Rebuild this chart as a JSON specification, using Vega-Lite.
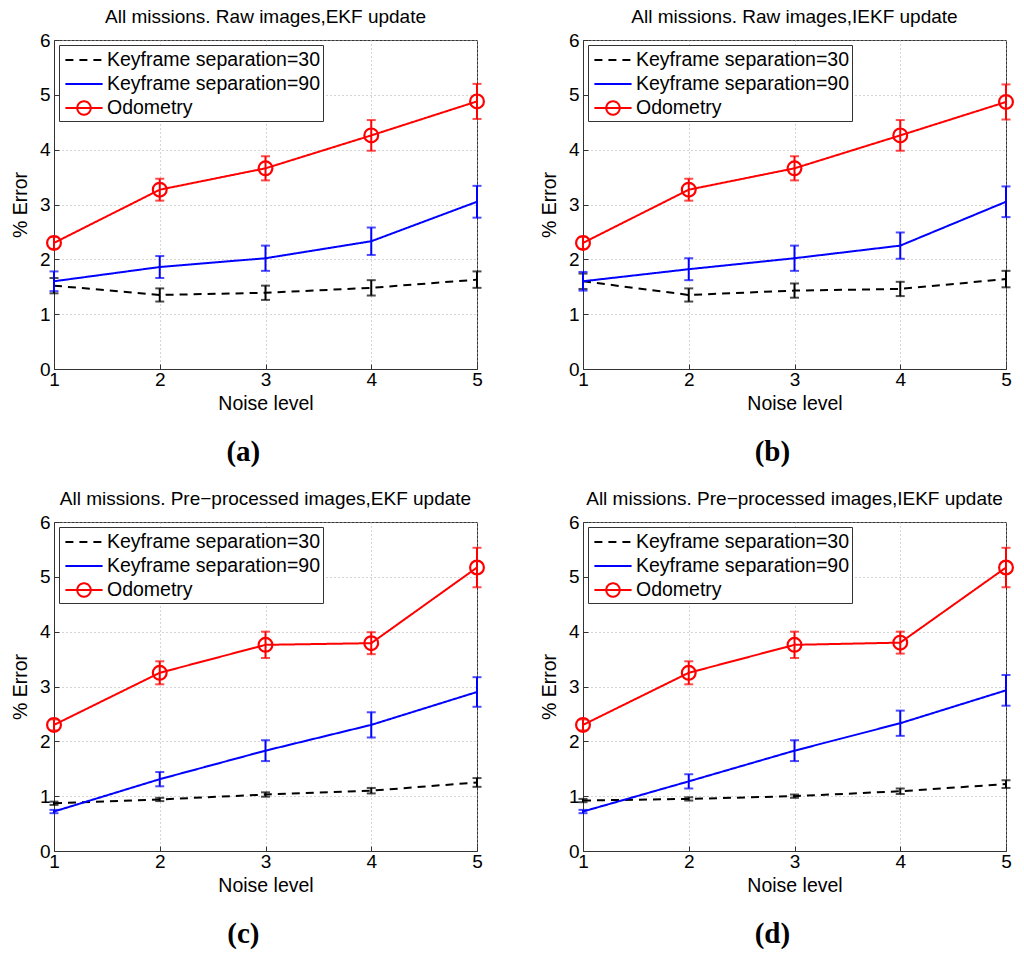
{
  "$schema": "https://vega.github.io/schema/vega-lite/v6.json",
  "background": "white",
  "padding": {"left": 9, "top": 7, "right": 4, "bottom": 4},
  "datasets": {
    "all": [
      {"p":"a","s":"Keyframe separation=30","n":1,"e":1.52,"lo":1.38,"hi":1.66},
      {"p":"a","s":"Keyframe separation=30","n":2,"e":1.35,"lo":1.23,"hi":1.47},
      {"p":"a","s":"Keyframe separation=30","n":3,"e":1.39,"lo":1.26,"hi":1.52},
      {"p":"a","s":"Keyframe separation=30","n":4,"e":1.48,"lo":1.34,"hi":1.62},
      {"p":"a","s":"Keyframe separation=30","n":5,"e":1.63,"lo":1.48,"hi":1.78},
      {"p":"a","s":"Keyframe separation=90","n":1,"e":1.60,"lo":1.42,"hi":1.78},
      {"p":"a","s":"Keyframe separation=90","n":2,"e":1.86,"lo":1.66,"hi":2.06},
      {"p":"a","s":"Keyframe separation=90","n":3,"e":2.02,"lo":1.79,"hi":2.25},
      {"p":"a","s":"Keyframe separation=90","n":4,"e":2.33,"lo":2.08,"hi":2.58},
      {"p":"a","s":"Keyframe separation=90","n":5,"e":3.05,"lo":2.76,"hi":3.34},
      {"p":"a","s":"Odometry","n":1,"e":2.30,"lo":2.19,"hi":2.41},
      {"p":"a","s":"Odometry","n":2,"e":3.27,"lo":3.07,"hi":3.47},
      {"p":"a","s":"Odometry","n":3,"e":3.66,"lo":3.44,"hi":3.88},
      {"p":"a","s":"Odometry","n":4,"e":4.26,"lo":3.98,"hi":4.54},
      {"p":"a","s":"Odometry","n":5,"e":4.88,"lo":4.56,"hi":5.20},
      {"p":"b","s":"Keyframe separation=30","n":1,"e":1.60,"lo":1.46,"hi":1.74},
      {"p":"b","s":"Keyframe separation=30","n":2,"e":1.35,"lo":1.23,"hi":1.47},
      {"p":"b","s":"Keyframe separation=30","n":3,"e":1.43,"lo":1.30,"hi":1.56},
      {"p":"b","s":"Keyframe separation=30","n":4,"e":1.46,"lo":1.33,"hi":1.59},
      {"p":"b","s":"Keyframe separation=30","n":5,"e":1.64,"lo":1.49,"hi":1.79},
      {"p":"b","s":"Keyframe separation=90","n":1,"e":1.60,"lo":1.43,"hi":1.77},
      {"p":"b","s":"Keyframe separation=90","n":2,"e":1.82,"lo":1.62,"hi":2.02},
      {"p":"b","s":"Keyframe separation=90","n":3,"e":2.02,"lo":1.79,"hi":2.25},
      {"p":"b","s":"Keyframe separation=90","n":4,"e":2.25,"lo":2.01,"hi":2.49},
      {"p":"b","s":"Keyframe separation=90","n":5,"e":3.05,"lo":2.77,"hi":3.33},
      {"p":"b","s":"Odometry","n":1,"e":2.30,"lo":2.19,"hi":2.41},
      {"p":"b","s":"Odometry","n":2,"e":3.27,"lo":3.07,"hi":3.47},
      {"p":"b","s":"Odometry","n":3,"e":3.66,"lo":3.44,"hi":3.88},
      {"p":"b","s":"Odometry","n":4,"e":4.26,"lo":3.98,"hi":4.54},
      {"p":"b","s":"Odometry","n":5,"e":4.87,"lo":4.55,"hi":5.19},
      {"p":"c","s":"Keyframe separation=30","n":1,"e":0.87,"lo":0.84,"hi":0.90},
      {"p":"c","s":"Keyframe separation=30","n":2,"e":0.94,"lo":0.91,"hi":0.97},
      {"p":"c","s":"Keyframe separation=30","n":3,"e":1.03,"lo":0.99,"hi":1.07},
      {"p":"c","s":"Keyframe separation=30","n":4,"e":1.10,"lo":1.05,"hi":1.15},
      {"p":"c","s":"Keyframe separation=30","n":5,"e":1.25,"lo":1.17,"hi":1.33},
      {"p":"c","s":"Keyframe separation=90","n":1,"e":0.72,"lo":0.69,"hi":0.75},
      {"p":"c","s":"Keyframe separation=90","n":2,"e":1.31,"lo":1.18,"hi":1.44},
      {"p":"c","s":"Keyframe separation=90","n":3,"e":1.83,"lo":1.64,"hi":2.02},
      {"p":"c","s":"Keyframe separation=90","n":4,"e":2.30,"lo":2.07,"hi":2.53},
      {"p":"c","s":"Keyframe separation=90","n":5,"e":2.90,"lo":2.63,"hi":3.17},
      {"p":"c","s":"Odometry","n":1,"e":2.30,"lo":2.20,"hi":2.40},
      {"p":"c","s":"Odometry","n":2,"e":3.25,"lo":3.04,"hi":3.46},
      {"p":"c","s":"Odometry","n":3,"e":3.76,"lo":3.52,"hi":4.00},
      {"p":"c","s":"Odometry","n":4,"e":3.79,"lo":3.59,"hi":3.99},
      {"p":"c","s":"Odometry","n":5,"e":5.17,"lo":4.81,"hi":5.53},
      {"p":"d","s":"Keyframe separation=30","n":1,"e":0.92,"lo":0.89,"hi":0.95},
      {"p":"d","s":"Keyframe separation=30","n":2,"e":0.95,"lo":0.92,"hi":0.98},
      {"p":"d","s":"Keyframe separation=30","n":3,"e":1.00,"lo":0.97,"hi":1.03},
      {"p":"d","s":"Keyframe separation=30","n":4,"e":1.09,"lo":1.04,"hi":1.14},
      {"p":"d","s":"Keyframe separation=30","n":5,"e":1.22,"lo":1.15,"hi":1.29},
      {"p":"d","s":"Keyframe separation=90","n":1,"e":0.72,"lo":0.69,"hi":0.75},
      {"p":"d","s":"Keyframe separation=90","n":2,"e":1.27,"lo":1.14,"hi":1.40},
      {"p":"d","s":"Keyframe separation=90","n":3,"e":1.83,"lo":1.64,"hi":2.02},
      {"p":"d","s":"Keyframe separation=90","n":4,"e":2.33,"lo":2.10,"hi":2.56},
      {"p":"d","s":"Keyframe separation=90","n":5,"e":2.93,"lo":2.65,"hi":3.21},
      {"p":"d","s":"Odometry","n":1,"e":2.30,"lo":2.20,"hi":2.40},
      {"p":"d","s":"Odometry","n":2,"e":3.25,"lo":3.04,"hi":3.46},
      {"p":"d","s":"Odometry","n":3,"e":3.76,"lo":3.52,"hi":4.00},
      {"p":"d","s":"Odometry","n":4,"e":3.80,"lo":3.60,"hi":4.00},
      {"p":"d","s":"Odometry","n":5,"e":5.17,"lo":4.81,"hi":5.53}
    ]
  },
  "config": {
    "font": "Liberation Sans",
    "view": {"stroke": "#333333", "strokeWidth": 1},
    "axis": {
      "labelFont": "Liberation Sans", "labelFontSize": 19, "labelColor": "#000000",
      "titleFont": "Liberation Sans", "titleFontSize": 19.5, "titleFontWeight": "normal", "titleColor": "#000000",
      "ticks": true, "tickSize": -5, "tickColor": "#333333", "labelFlush": false, "labelOverlap": false,
      "domainColor": "#333333",
      "grid": true, "gridColor": "#aaaaaa", "gridDash": [1, 3], "gridWidth": 1
    },
    "axisX": {"titlePadding": 5, "labelPadding": 6},
    "axisY": {"titlePadding": 9, "labelPadding": 9, "format": "d"},
    "title": {"font": "Liberation Sans", "fontSize": 19, "fontWeight": "normal", "color": "#000000"},
    "legend": {
      "orient": "top-left", "offset": 5, "strokeColor": "#333333", "fillColor": "#ffffff",
      "padding": 2, "labelFont": "Liberation Sans", "labelFontSize": 19.5, "labelColor": "#000000",
      "symbolSize": 576, "symbolStrokeWidth": 2, "symbolType": "M-1.55,0H1.55", "rowPadding": 1,
      "symbolOffset": 10, "labelOffset": 10, "labelLimit": 400, "cornerRadius": 0
    }
  },
  "resolve": {"scale": {"color": "independent", "strokeDash": "independent", "x": "independent", "y": "independent"}, "legend": {"color": "independent", "strokeDash": "independent"}},
  "spacing": 22,
  "vconcat": [
    {
      "spacing": 49,
      "resolve": {"scale": {"color": "independent", "strokeDash": "independent", "x": "independent", "y": "independent"}, "legend": {"color": "independent", "strokeDash": "independent"}},
      "hconcat": [
        {
          "title": {"text": "(a)", "orient": "bottom", "font": "Liberation Serif", "fontSize": 29, "fontWeight": "bold", "offset": 25, "anchor": "middle", "dx": -6},
          "vconcat": [
            {
              "width": 423, "height": 329,
              "title": {"text": "All missions. Raw images,EKF update", "frame": "group", "anchor": "middle", "offset": 4},
              "data": {"name": "all"},
              "transform": [{"filter": "datum.p == 'a'"}],
              "encoding": {"x": {"field": "n", "type": "quantitative", "scale": {"domain": [1, 5], "nice": false}, "axis": {"title": "Noise level", "values": [1, 2, 3, 4, 5]}}},
              "layer": [
                {
                  "mark": {"type": "line", "strokeWidth": 2},
                  "encoding": {
                    "y": {"field": "e", "type": "quantitative", "scale": {"domain": [0, 6], "nice": false}, "axis": {"title": "% Error", "values": [0, 1, 2, 3, 4, 5, 6]}},
                    "color": {"field": "s", "type": "nominal", "scale": {"domain": ["Keyframe separation=30", "Keyframe separation=90", "Odometry"], "range": ["#000000", "#0000ff", "#ff0000"]}, "legend": {"title": null, "encode": {"symbols": {"update": {"shape": {"signal": "datum.value === 'Odometry' ? 'M-1.55,0H1.55M0.56,0A0.56,0.56 0 1,1 -0.56,0A0.56,0.56 0 1,1 0.56,0' : 'M-1.55,0H1.55'"}, "fill": {"value": "transparent"}, "fillOpacity": {"value": 0}}}}}},
                    "strokeDash": {"field": "s", "type": "nominal", "scale": {"domain": ["Keyframe separation=30", "Keyframe separation=90", "Odometry"], "range": [[8, 6], [1, 0], [1, 0]]}, "legend": {"title": null}}
                  }
                },
                {
                  "mark": {"type": "errorbar", "thickness": 2, "ticks": {"size": 9, "thickness": 2}},
                  "encoding": {
                    "y": {"field": "lo", "type": "quantitative", "title": "% Error"},
                    "y2": {"field": "hi"},
                    "color": {"field": "s", "type": "nominal"}
                  }
                },
                {
                  "transform": [{"filter": "datum.s == 'Odometry'"}],
                  "mark": {"type": "point", "shape": "circle", "filled": false, "size": 190, "strokeWidth": 2.2, "color": "#ff0000", "opacity": 1},
                  "encoding": {"y": {"field": "e", "type": "quantitative", "title": "% Error"}}
                }
              ]
            }
          ]
        },
        {
          "title": {"text": "(b)", "orient": "bottom", "font": "Liberation Serif", "fontSize": 29, "fontWeight": "bold", "offset": 25, "anchor": "middle", "dx": -6},
          "vconcat": [
            {
              "width": 423, "height": 329,
              "title": {"text": "All missions. Raw images,IEKF update", "frame": "group", "anchor": "middle", "offset": 4},
              "data": {"name": "all"},
              "transform": [{"filter": "datum.p == 'b'"}],
              "encoding": {"x": {"field": "n", "type": "quantitative", "scale": {"domain": [1, 5], "nice": false}, "axis": {"title": "Noise level", "values": [1, 2, 3, 4, 5]}}},
              "layer": [
                {
                  "mark": {"type": "line", "strokeWidth": 2},
                  "encoding": {
                    "y": {"field": "e", "type": "quantitative", "scale": {"domain": [0, 6], "nice": false}, "axis": {"title": "% Error", "values": [0, 1, 2, 3, 4, 5, 6]}},
                    "color": {"field": "s", "type": "nominal", "scale": {"domain": ["Keyframe separation=30", "Keyframe separation=90", "Odometry"], "range": ["#000000", "#0000ff", "#ff0000"]}, "legend": {"title": null, "encode": {"symbols": {"update": {"shape": {"signal": "datum.value === 'Odometry' ? 'M-1.55,0H1.55M0.56,0A0.56,0.56 0 1,1 -0.56,0A0.56,0.56 0 1,1 0.56,0' : 'M-1.55,0H1.55'"}, "fill": {"value": "transparent"}, "fillOpacity": {"value": 0}}}}}},
                    "strokeDash": {"field": "s", "type": "nominal", "scale": {"domain": ["Keyframe separation=30", "Keyframe separation=90", "Odometry"], "range": [[8, 6], [1, 0], [1, 0]]}, "legend": {"title": null}}
                  }
                },
                {
                  "mark": {"type": "errorbar", "thickness": 2, "ticks": {"size": 9, "thickness": 2}},
                  "encoding": {
                    "y": {"field": "lo", "type": "quantitative", "title": "% Error"},
                    "y2": {"field": "hi"},
                    "color": {"field": "s", "type": "nominal"}
                  }
                },
                {
                  "transform": [{"filter": "datum.s == 'Odometry'"}],
                  "mark": {"type": "point", "shape": "circle", "filled": false, "size": 190, "strokeWidth": 2.2, "color": "#ff0000", "opacity": 1},
                  "encoding": {"y": {"field": "e", "type": "quantitative", "title": "% Error"}}
                }
              ]
            }
          ]
        }
      ]
    },
    {
      "spacing": 49,
      "resolve": {"scale": {"color": "independent", "strokeDash": "independent", "x": "independent", "y": "independent"}, "legend": {"color": "independent", "strokeDash": "independent"}},
      "hconcat": [
        {
          "title": {"text": "(c)", "orient": "bottom", "font": "Liberation Serif", "fontSize": 29, "fontWeight": "bold", "offset": 25, "anchor": "middle", "dx": -6},
          "vconcat": [
            {
              "width": 423, "height": 329,
              "title": {"text": "All missions. Pre−processed images,EKF update", "frame": "group", "anchor": "middle", "offset": 4},
              "data": {"name": "all"},
              "transform": [{"filter": "datum.p == 'c'"}],
              "encoding": {"x": {"field": "n", "type": "quantitative", "scale": {"domain": [1, 5], "nice": false}, "axis": {"title": "Noise level", "values": [1, 2, 3, 4, 5]}}},
              "layer": [
                {
                  "mark": {"type": "line", "strokeWidth": 2},
                  "encoding": {
                    "y": {"field": "e", "type": "quantitative", "scale": {"domain": [0, 6], "nice": false}, "axis": {"title": "% Error", "values": [0, 1, 2, 3, 4, 5, 6]}},
                    "color": {"field": "s", "type": "nominal", "scale": {"domain": ["Keyframe separation=30", "Keyframe separation=90", "Odometry"], "range": ["#000000", "#0000ff", "#ff0000"]}, "legend": {"title": null, "encode": {"symbols": {"update": {"shape": {"signal": "datum.value === 'Odometry' ? 'M-1.55,0H1.55M0.56,0A0.56,0.56 0 1,1 -0.56,0A0.56,0.56 0 1,1 0.56,0' : 'M-1.55,0H1.55'"}, "fill": {"value": "transparent"}, "fillOpacity": {"value": 0}}}}}},
                    "strokeDash": {"field": "s", "type": "nominal", "scale": {"domain": ["Keyframe separation=30", "Keyframe separation=90", "Odometry"], "range": [[8, 6], [1, 0], [1, 0]]}, "legend": {"title": null}}
                  }
                },
                {
                  "mark": {"type": "errorbar", "thickness": 2, "ticks": {"size": 9, "thickness": 2}},
                  "encoding": {
                    "y": {"field": "lo", "type": "quantitative", "title": "% Error"},
                    "y2": {"field": "hi"},
                    "color": {"field": "s", "type": "nominal"}
                  }
                },
                {
                  "transform": [{"filter": "datum.s == 'Odometry'"}],
                  "mark": {"type": "point", "shape": "circle", "filled": false, "size": 190, "strokeWidth": 2.2, "color": "#ff0000", "opacity": 1},
                  "encoding": {"y": {"field": "e", "type": "quantitative", "title": "% Error"}}
                }
              ]
            }
          ]
        },
        {
          "title": {"text": "(d)", "orient": "bottom", "font": "Liberation Serif", "fontSize": 29, "fontWeight": "bold", "offset": 25, "anchor": "middle", "dx": -6},
          "vconcat": [
            {
              "width": 423, "height": 329,
              "title": {"text": "All missions. Pre−processed images,IEKF update", "frame": "group", "anchor": "middle", "offset": 4},
              "data": {"name": "all"},
              "transform": [{"filter": "datum.p == 'd'"}],
              "encoding": {"x": {"field": "n", "type": "quantitative", "scale": {"domain": [1, 5], "nice": false}, "axis": {"title": "Noise level", "values": [1, 2, 3, 4, 5]}}},
              "layer": [
                {
                  "mark": {"type": "line", "strokeWidth": 2},
                  "encoding": {
                    "y": {"field": "e", "type": "quantitative", "scale": {"domain": [0, 6], "nice": false}, "axis": {"title": "% Error", "values": [0, 1, 2, 3, 4, 5, 6]}},
                    "color": {"field": "s", "type": "nominal", "scale": {"domain": ["Keyframe separation=30", "Keyframe separation=90", "Odometry"], "range": ["#000000", "#0000ff", "#ff0000"]}, "legend": {"title": null, "encode": {"symbols": {"update": {"shape": {"signal": "datum.value === 'Odometry' ? 'M-1.55,0H1.55M0.56,0A0.56,0.56 0 1,1 -0.56,0A0.56,0.56 0 1,1 0.56,0' : 'M-1.55,0H1.55'"}, "fill": {"value": "transparent"}, "fillOpacity": {"value": 0}}}}}},
                    "strokeDash": {"field": "s", "type": "nominal", "scale": {"domain": ["Keyframe separation=30", "Keyframe separation=90", "Odometry"], "range": [[8, 6], [1, 0], [1, 0]]}, "legend": {"title": null}}
                  }
                },
                {
                  "mark": {"type": "errorbar", "thickness": 2, "ticks": {"size": 9, "thickness": 2}},
                  "encoding": {
                    "y": {"field": "lo", "type": "quantitative", "title": "% Error"},
                    "y2": {"field": "hi"},
                    "color": {"field": "s", "type": "nominal"}
                  }
                },
                {
                  "transform": [{"filter": "datum.s == 'Odometry'"}],
                  "mark": {"type": "point", "shape": "circle", "filled": false, "size": 190, "strokeWidth": 2.2, "color": "#ff0000", "opacity": 1},
                  "encoding": {"y": {"field": "e", "type": "quantitative", "title": "% Error"}}
                }
              ]
            }
          ]
        }
      ]
    }
  ]
}
